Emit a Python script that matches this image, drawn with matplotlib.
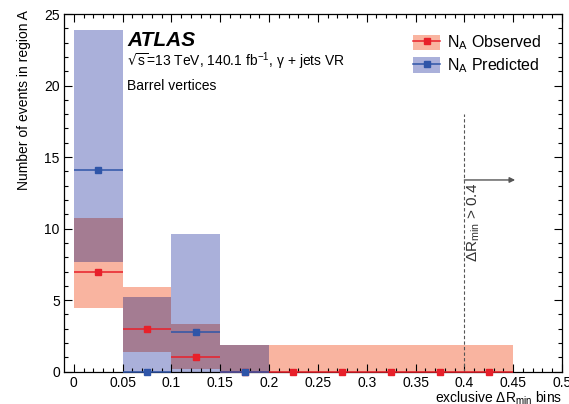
import numpy as np
import matplotlib.pyplot as plt
from matplotlib.patches import Patch
from matplotlib.lines import Line2D

plt.rcParams['font.family'] = ['Liberation Sans', 'DejaVu Sans']
plt.rcParams['mathtext.default'] = 'regular'

# bins in Delta R_min
bin_edges = np.array([0, 0.05, 0.1, 0.15, 0.2, 0.25, 0.3, 0.35, 0.4, 0.45])
centers = (bin_edges[:-1] + bin_edges[1:]) / 2

# observed counts and their bands
obs = [7, 3, 1, 0, 0, 0, 0, 0, 0]
obs_lo = [4.42, 1.37, 0.17, 0, 0, 0, 0, 0, 0]
obs_hi = [10.77, 5.92, 3.30, 1.84, 1.84, 1.84, 1.84, 1.84, 1.84]

# predicted counts (first four bins) and their bands
pred = [14.1, 0, 2.8, 0]
pred_lo = [7.65, 0, 0, 0]
pred_hi = [23.9, 5.25, 9.6, 1.84]

red = '#e8202a'
blue = '#2f55a8'
c_obs_band = '#f9b4a0'
c_pred_band = '#aab0da'
c_both = '#a47c92'

fig = plt.figure(figsize=(5.69, 4.04), dpi=100)
ax = fig.add_axes([0.1125, 0.080, 0.8752, 0.8853])

w = 0.05
npred = len(pred)
ax.bar(centers, np.subtract(obs_hi, obs_lo), bottom=obs_lo, width=w,
       color=c_obs_band, linewidth=0, zorder=1)
ax.bar(centers[:npred], np.subtract(pred_hi, pred_lo), bottom=pred_lo, width=w,
       color=c_pred_band, linewidth=0, zorder=1)
# overlap of the two bands
ov_lo = np.maximum(obs_lo[:npred], pred_lo)
ov_hi = np.minimum(obs_hi[:npred], pred_hi)
ov_h = np.clip(ov_hi - ov_lo, 0, None)
ax.bar(centers[:npred], ov_h, bottom=ov_lo, width=w, color=c_both,
       linewidth=0, zorder=1.5)

# central values
ax.hlines(obs, bin_edges[:-1], bin_edges[1:], color=red, lw=1.1, zorder=3, clip_on=False)
ax.plot(centers, obs, 's', color=red, ms=5, zorder=4, clip_on=False)
ax.hlines(pred, bin_edges[:npred], bin_edges[1:npred + 1], color=blue, lw=1.1, zorder=5, clip_on=False)
ax.plot(centers[:npred], pred, 's', color=blue, ms=5, zorder=6, clip_on=False)

# cut line and arrow
ax.plot([0.4, 0.4], [0, 18], color='#555555', lw=0.8, dashes=(3, 2), zorder=2)
ax.annotate('', xy=(0.452, 13.4), xytext=(0.4, 13.4),
            arrowprops=dict(arrowstyle='-|>', color='#555555', lw=1, mutation_scale=8,
                            shrinkA=0, shrinkB=0))
ax.text(0.401, 13.2, r'$\Delta$R$_{min}$ > 0.4', rotation=90, ha='left', va='top',
        fontsize=11, color='#333333')

ax.set_xlim(-0.01, 0.5)
ax.set_ylim(0, 25)
ax.set_xticks(np.arange(0, 0.51, 0.05))
ax.set_xticklabels(['0', '0.05', '0.1', '0.15', '0.2', '0.25', '0.3', '0.35', '0.4', '0.45', '0.5'])
ax.set_xticks(np.arange(0, 0.501, 0.01), minor=True)
ax.set_yticks(np.arange(0, 26, 5))
ax.set_yticks(np.arange(0, 26, 1), minor=True)
ax.tick_params(which='both', direction='in', top=True, right=True, labelsize=10)
ax.tick_params(which='major', length=6, width=0.8)
ax.tick_params(which='minor', length=3, width=0.8)
ax.tick_params(axis='x', pad=3)
ax.tick_params(axis='y', pad=3)
for s in ax.spines.values():
    s.set_linewidth(0.9)

ax.set_ylabel('Number of events in region A', fontsize=10, loc='top')
ax.yaxis.set_label_coords(-0.066, 1.01)
ax.set_xlabel(r'exclusive $\Delta$R$_{min}$ bins', fontsize=10, loc='right')
ax.xaxis.set_label_coords(1.0, -0.05)

ax.text(0.1265, 0.91, 'ATLAS', transform=ax.transAxes, fontsize=15,
        fontweight='bold', fontstyle='italic', va='baseline')
ax.text(0.1265, 0.855, r'$\sqrt{s}$=13 TeV, 140.1 fb$^{-1}$, γ + jets VR', transform=ax.transAxes,
        fontsize=10, va='baseline')
ax.text(0.1265, 0.787, 'Barrel vertices', transform=ax.transAxes, fontsize=10, va='baseline')

handles = [(Patch(color=c_obs_band, lw=0), Line2D([], [], color=red, marker='s', ms=5, lw=1.1)),
           (Patch(color=c_pred_band, lw=0), Line2D([], [], color=blue, marker='s', ms=5, lw=1.1))]
ax.legend(handles, ['N$_A$ Observed', 'N$_A$ Predicted'], loc='upper left',
          bbox_to_anchor=(0.672, 0.985), frameon=False, fontsize=11.5,
          handlelength=1.7, handleheight=1.1, handletextpad=0.4, labelspacing=0.25)

fig.savefig('out.png', dpi=100)
